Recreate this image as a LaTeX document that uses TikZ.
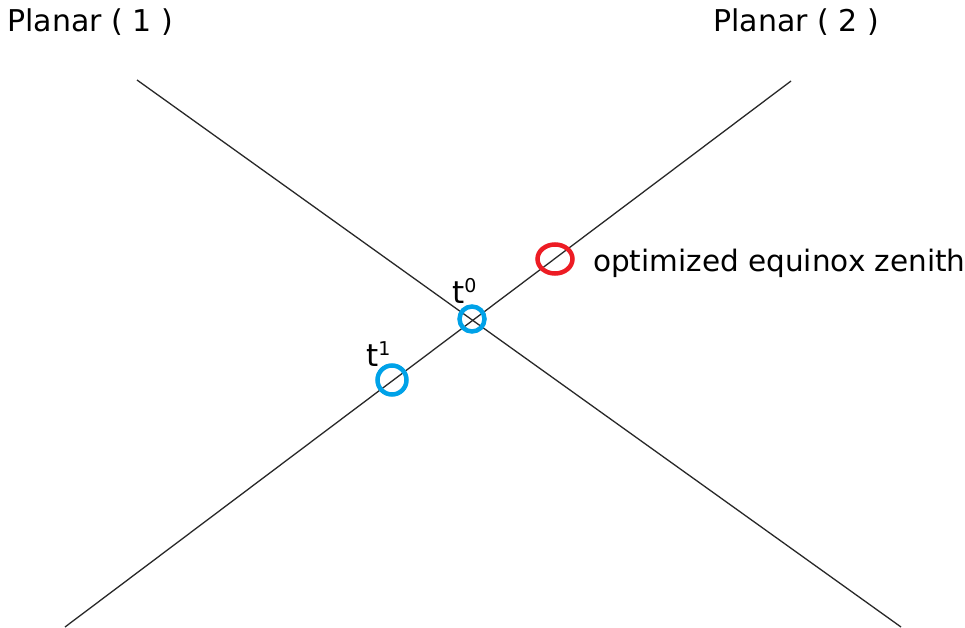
\documentclass[tikz,border=0pt]{standalone}
\usepackage{fontspec}
\setmainfont{DejaVu Sans}
\usetikzlibrary{shapes.geometric}
\definecolor{ringblue}{RGB}{0,162,232}
\definecolor{ringred}{RGB}{237,28,36}
\definecolor{linegray}{RGB}{40,40,40}
\tikzset{
  axisline/.style={draw=linegray, line width=1.3pt},
  bluering/.style={circle, draw=ringblue, line width=4.5pt, inner sep=0pt},
  redring/.style={ellipse, draw=ringred, line width=4.5pt, inner sep=0pt, minimum width=35pt, minimum height=29pt},
  bigtext/.style={anchor=base west, inner sep=0pt, font=\fontsize{30}{36}\selectfont},
  midtext/.style={anchor=base west, inner sep=0pt, font=\fontsize{29.5}{34}\selectfont},
  tlabel/.style={anchor=base west, inner sep=0pt, font=\fontsize{31}{34}\selectfont}
}
\newcommand{\supnum}[1]{\raisebox{11pt}{\fontsize{19}{19}\selectfont #1}}
\begin{document}
\begin{tikzpicture}[x=1pt,y=-1pt]
\useasboundingbox[fill=white] (0,0) rectangle (965,628);
\coordinate (a1) at (137,80);
\coordinate (b1) at (901,627);
\coordinate (a2) at (65,627);
\coordinate (b2) at (791,81);
\draw[axisline] (a1) -- (b1);
\draw[axisline] (a2) -- (b2);
\node[bluering, minimum size=25pt] (t0c) at (472,319) {};
\node[bluering, minimum size=29pt] (t1c) at (392,380) {};
\node[redring] (redc) at (555,259) {};
\node[bigtext] (lab1) at (7,32) {Planar ( 1 )};
\node[bigtext] (lab2) at (713,32) {Planar ( 2 )};
\node[midtext] (optl) at (593,271) {optimized equinox zenith};
\node[tlabel] (t0l) at (452,303) {t\supnum{0}};
\node[tlabel] (t1l) at (366,366) {t\supnum{1}};
\end{tikzpicture}
\end{document}
